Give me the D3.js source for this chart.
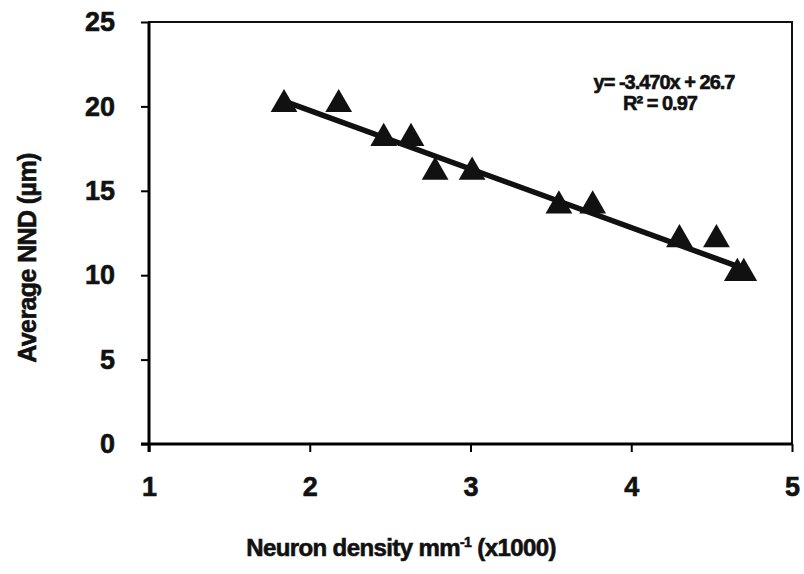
<!DOCTYPE html>
<html>
<head>
<meta charset="utf-8">
<script src="https://cdn.jsdelivr.net/npm/d3@7"></script>
<style>
  body { margin: 0; background: #fff; }
  text { font-family: "Liberation Sans", Arial, sans-serif; font-weight: bold; fill: #111; stroke: #111; stroke-width: 0.6px; }
</style>
</head>
<body>
<svg width="804" height="574"></svg>
<script>
// data
var density = [1.84, 2.18, 2.46, 2.63, 2.78, 3.01, 3.55, 3.76, 4.30, 4.53, 4.66, 4.70];
var nnd     = [20,   20,   18,   18,   16,   16,   14,   14,   12,   12,   10,   10];
var xTicks = [1, 2, 3, 4, 5];
var yTicks = [0, 5, 10, 15, 20, 25];
var slope = -3.470, intercept = 26.7, r2 = 0.97;

var svg = d3.select("svg");

var x = d3.scaleLinear().domain([1, 5]).range([149, 792]);
var y = d3.scaleLinear().domain([0, 25]).range([444, 22]);

// frame
svg.append("rect")
  .attr("x", x(1)).attr("y", y(25))
  .attr("width", x(5) - x(1)).attr("height", y(0) - y(25))
  .attr("fill", "none").attr("stroke", "#111").attr("stroke-width", 2);

// y axis
var yAxis = svg.append("g")
  .attr("transform", "translate(" + x(1) + ",0)")
  .call(d3.axisLeft(y).tickValues(yTicks).tickFormat(d3.format("d")).tickSize(8).tickPadding(26));
yAxis.select(".domain").attr("stroke-width", 3).attr("d", "M0," + y(25) + "V" + (y(0) + 8));
yAxis.selectAll(".tick line").attr("stroke-width", 2);
yAxis.selectAll(".tick text").style("font-size", "27px").attr("fill", "#111");

// x axis
var xAxis = svg.append("g")
  .attr("transform", "translate(0," + y(0) + ")")
  .call(d3.axisBottom(x).tickValues(xTicks).tickFormat(d3.format("d")).tickSize(8).tickPadding(25));
xAxis.select(".domain").attr("stroke-width", 3).attr("d", "M" + (x(1) - 8) + ",0H" + x(5));
xAxis.selectAll(".tick line").attr("stroke-width", 2);
xAxis.selectAll(".tick text").style("font-size", "27px").attr("fill", "#111");

// axis titles
svg.append("text")
  .attr("transform", "translate(36," + 258 + ") rotate(-90)")
  .attr("text-anchor", "middle")
  .style("font-size", "25px")
  .style("letter-spacing", "-0.6px")
  .text("Average NND (\u00b5m)");

var xt = svg.append("text")
  .attr("x", 401).attr("y", 556)
  .attr("text-anchor", "middle")
  .style("font-size", "24px")
  .style("letter-spacing", "-0.6px");
xt.append("tspan").text("Neuron density mm");
xt.append("tspan").attr("dy", -9).style("font-size", "14px").text("-1");
xt.append("tspan").attr("dy", 9).text(" (x1000)");

// trend line
var x0 = d3.min(density), x1 = d3.max(density);
svg.append("line")
  .attr("x1", x(x0)).attr("y1", y(slope * x0 + intercept))
  .attr("x2", x(x1)).attr("y2", y(slope * x1 + intercept))
  .attr("stroke", "#111").attr("stroke-width", 5.5);

// triangle markers
var tri = d3.symbol().type(d3.symbolTriangle).size(310);
svg.append("g")
  .selectAll("path")
  .data(density)
  .enter()
  .append("path")
    .attr("d", tri)
    .attr("transform", function (d, i) { return "translate(" + x(d) + "," + (y(nnd[i]) - 2) + ")"; })
    .attr("fill", "#111");

// equation
svg.append("text")
  .attr("x", 664).attr("y", 89)
  .attr("text-anchor", "middle")
  .style("font-size", "20px")
  .style("letter-spacing", "-1px")
  .text("y= " + slope.toFixed(3) + "x + " + intercept);
svg.append("text")
  .attr("x", 660).attr("y", 110)
  .attr("text-anchor", "middle")
  .style("font-size", "20px")
  .style("letter-spacing", "-1px")
  .text("R\u00b2 = " + r2);
</script>
</body>
</html>
